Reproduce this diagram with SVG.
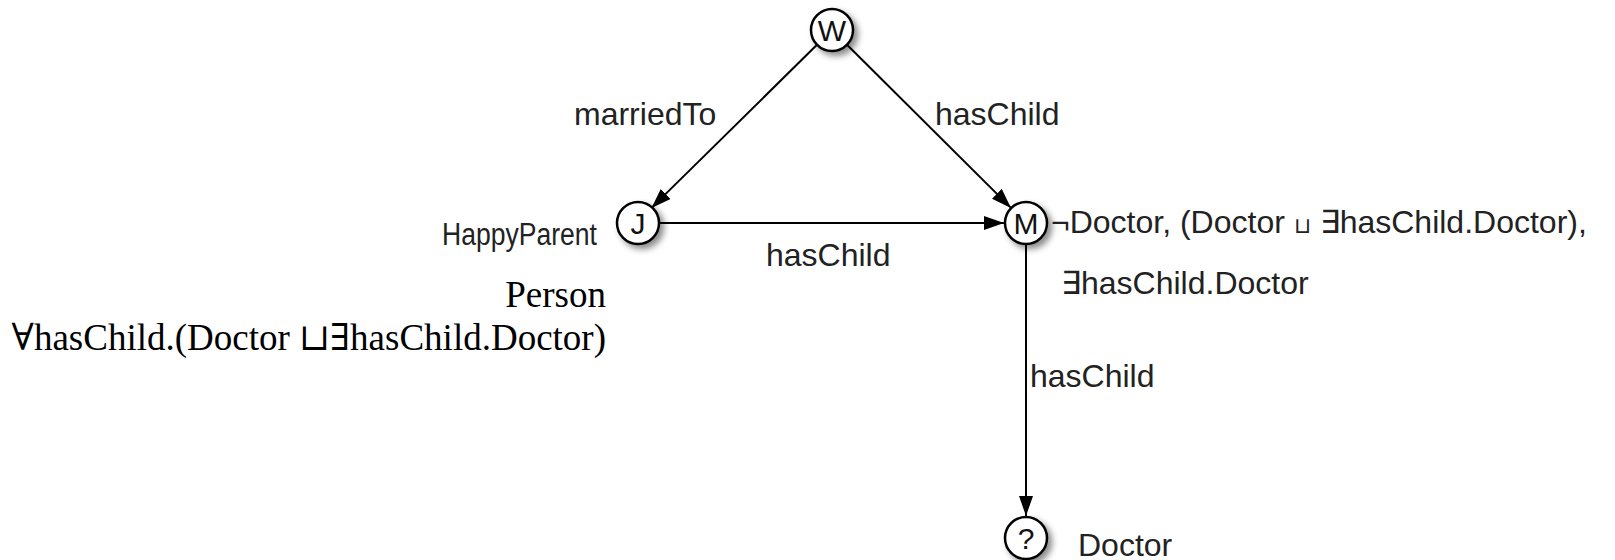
<svg xmlns="http://www.w3.org/2000/svg" width="1615" height="560" viewBox="0 0 1615 560">
<style>
.node circle{fill:#fff;stroke:#000;stroke-width:2.5;filter:url(#sh)}
.node text{font-family:"Liberation Sans",Arial,sans-serif;font-size:30px;fill:#111;text-anchor:middle}
.lbl{font-family:"Liberation Sans",Arial,sans-serif;font-size:32px;fill:#222}
.ser{font-family:"Liberation Serif","Times New Roman","DejaVu Serif",serif;font-size:37px;fill:#000}
.edge{stroke:#000;stroke-width:2;fill:none;marker-end:url(#ah)}
</style>
<defs>
<marker id="ah" viewBox="0 0 20 14" refX="20" refY="7" markerWidth="20" markerHeight="14" markerUnits="userSpaceOnUse" orient="auto">
<path d="M0,0 L20,7 L0,14 z" fill="#000"/>
</marker>
<filter id="sh" x="-40%" y="-40%" width="200%" height="200%">
<feDropShadow dx="4" dy="4" stdDeviation="3" flood-color="#000" flood-opacity="0.45"/>
</filter>
</defs>
<rect width="1615" height="560" fill="#fff"/>
<g id="connectors">
<line class="edge" x1="817" y1="44.8" x2="651.5" y2="207.9"/>
<line class="edge" x1="847" y1="44.8" x2="1011" y2="207.9"/>
<line class="edge" x1="660" y1="223" x2="1004" y2="223"/>
<line class="edge" x1="1026" y1="245" x2="1026" y2="516"/>
<text class="lbl" x="574" y="125">marriedTo</text>
<text class="lbl" x="935" y="125">hasChild</text>
<text class="lbl" x="766" y="266">hasChild</text>
<text class="lbl" x="1030" y="387">hasChild</text>
</g>
<g id="node-W" class="node"><circle cx="832" cy="30" r="21"/><text x="832" y="41">W</text></g>
<g id="node-J" class="node"><circle cx="638" cy="223" r="21"/><text x="638" y="234">J</text></g>
<g id="node-M" class="node"><circle cx="1026" cy="223" r="21"/><text x="1026" y="234">M</text></g>
<g id="node-Q" class="node"><circle cx="1026" cy="538" r="21"/><text x="1026" y="549">?</text></g>
<g id="label-J">
<text class="lbl" x="442" y="245" textLength="155" lengthAdjust="spacingAndGlyphs" style="font-size:31px">HappyParent</text>
<text class="ser" x="606" y="307" text-anchor="end">Person</text>
<text class="ser" x="606" y="350" text-anchor="end">∀hasChild.(Doctor ⊔∃hasChild.Doctor)</text>
</g>
<g id="label-M">
<text class="lbl" x="1051" y="233">¬Doctor, (Doctor <tspan font-size="22">⊔</tspan> ∃hasChild.Doctor),</text>
<text class="lbl" x="1061" y="294">∃hasChild.Doctor</text>
</g>
<g id="label-Q">
<text class="lbl" x="1078" y="556">Doctor</text>
</g>
</svg>
